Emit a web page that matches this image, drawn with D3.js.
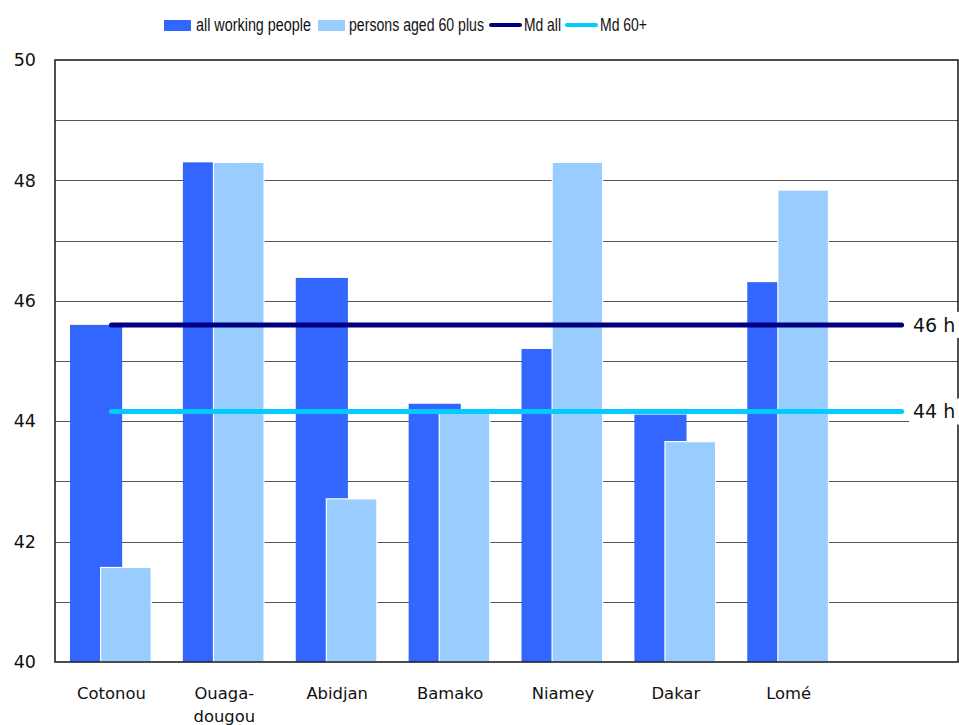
<!DOCTYPE html>
<html>
<head>
<meta charset="utf-8">
<script src="https://cdn.jsdelivr.net/npm/d3@7"></script>
<style>
  html, body { margin: 0; padding: 0; background: #fff; }
  svg { display: block; font-family: "DejaVu Sans", Verdana, sans-serif; }
</style>
</head>
<body>
<svg id="chart" width="959" height="725"></svg>
<script>
// Weekly working hours by city
const categories = ["Cotonou", "Ouaga-\ndougou", "Abidjan", "Bamako", "Niamey", "Dakar", "Lomé"];
const allWorking = [45.6, 48.3, 46.38, 44.29, 45.2, 44.11, 46.31];
const aged60plus = [41.57, 48.3, 42.71, 44.18, 48.3, 43.66, 47.84];
const medianAll = 45.6;
const median60 = 44.16;
const medianLabels = ["46 h", "44 h"];
const yTicks = [40, 42, 44, 46, 48, 50];
const seriesNames = ["all working people", "persons aged 60 plus", "Md all", "Md 60+"];

const colDark = "#3366FF", colLight = "#99CCFF", colMdAll = "#000080", colMd60 = "#00CCFF";

const svg = d3.select("#chart");
const m = { left: 55, right: 958, top: 60, bottom: 662 };

const x = d3.scaleBand().domain(d3.range(8)).range([m.left, m.right]).padding(0);
const y = d3.scaleLinear().domain([40, 50]).range([m.bottom, m.top]);
const bw = x.bandwidth();

// horizontal grid at every hour
svg.append("g").selectAll("line").data(d3.range(41, 50)).join("line")
  .attr("x1", m.left).attr("x2", m.right)
  .attr("y1", d => Math.round(y(d)) + 0.5).attr("y2", d => Math.round(y(d)) + 0.5)
  .attr("stroke", "#555").attr("stroke-width", 1.2);

// bars: dark behind, light overlapping on top
svg.append("g").selectAll("rect").data(allWorking).join("rect")
  .attr("x", (d, i) => x(i) + bw * 0.133)
  .attr("width", bw * 0.462)
  .attr("y", d => y(d))
  .attr("height", d => y(40) - y(d))
  .attr("fill", colDark);

svg.append("g").selectAll("rect").data(aged60plus).join("rect")
  .attr("x", (d, i) => x(i) + bw * 0.404)
  .attr("width", bw * 0.448)
  .attr("y", d => y(d))
  .attr("height", d => y(40) - y(d))
  .attr("fill", colLight)
  .attr("stroke", "#fff").attr("stroke-width", 1.2);

// plot frame
svg.append("rect")
  .attr("x", m.left).attr("y", m.top)
  .attr("width", m.right - m.left).attr("height", m.bottom - m.top)
  .attr("fill", "none").attr("stroke", "#222").attr("stroke-width", 1.6);

// median lines
const lineX0 = x(0) + bw / 2, lineX1 = x(7) + bw / 2;
[[medianAll, colMdAll, 5, medianLabels[0]], [median60, colMd60, 5, medianLabels[1]]].forEach(([v, c, w, lab]) => {
  svg.append("line")
    .attr("x1", lineX0).attr("x2", lineX1)
    .attr("y1", y(v)).attr("y2", y(v))
    .attr("stroke", c).attr("stroke-width", w).attr("stroke-linecap", "round");
  svg.append("rect")
    .attr("x", 909).attr("y", y(v) - 13).attr("width", 52).attr("height", 26)
    .attr("fill", "#fff");
  svg.append("text")
    .attr("x", 913).attr("y", y(v)).attr("dy", "0.36em")
    .attr("font-size", 19).attr("fill", "#111").text(lab);
});

// y axis labels
const yAxis = d3.axisLeft(y).tickValues(yTicks).tickSize(0).tickPadding(0);
const gy = svg.append("g").attr("transform", `translate(36,0)`).call(yAxis);
gy.select(".domain").remove();
gy.selectAll("text").attr("font-size", 17.5).attr("fill", "#111")
  .attr("font-family", "DejaVu Sans, Verdana, sans-serif");

// category labels
const xAxis = d3.axisBottom(x).tickSize(0).tickFormat(() => "");
const gx = svg.append("g").attr("transform", `translate(0,${m.bottom})`).call(xAxis);
gx.select(".domain").remove();
categories.forEach((c, i) => {
  const t = svg.append("text")
    .attr("x", x(i) + bw / 2).attr("y", 699)
    .attr("text-anchor", "middle").attr("font-size", 16.4).attr("fill", "#111");
  c.split("\n").forEach((ln, k) => {
    t.append("tspan").attr("x", x(i) + bw / 2).attr("dy", k === 0 ? 0 : 23).text(ln);
  });
});

// legend
const lg = svg.append("g").attr("font-size", 17.5).attr("fill", "#111")
  .attr("font-family", "'Liberation Sans', Arial, sans-serif");
const legendItems = [
  { type: "rect", color: colDark, x: 164, tx: 196, len: 115 },
  { type: "rect", color: colLight, x: 318, tx: 349, len: 135 },
  { type: "line", color: colMdAll, x: 491, tx: 524, len: 37 },
  { type: "line", color: colMd60, x: 567, tx: 600, len: 47 }
];
legendItems.forEach((it, i) => {
  if (it.type === "rect") {
    lg.append("rect").attr("x", it.x).attr("y", 20).attr("width", 27).attr("height", 11).attr("fill", it.color);
  } else {
    lg.append("line").attr("x1", it.x).attr("x2", it.x + 29).attr("y1", 25).attr("y2", 25)
      .attr("stroke", it.color).attr("stroke-width", 4).attr("stroke-linecap", "round");
  }
  lg.append("text").attr("x", it.tx).attr("y", 25).attr("dy", "0.35em")
    .attr("textLength", it.len).attr("lengthAdjust", "spacingAndGlyphs")
    .text(seriesNames[i]);
});
</script>
</body>
</html>
